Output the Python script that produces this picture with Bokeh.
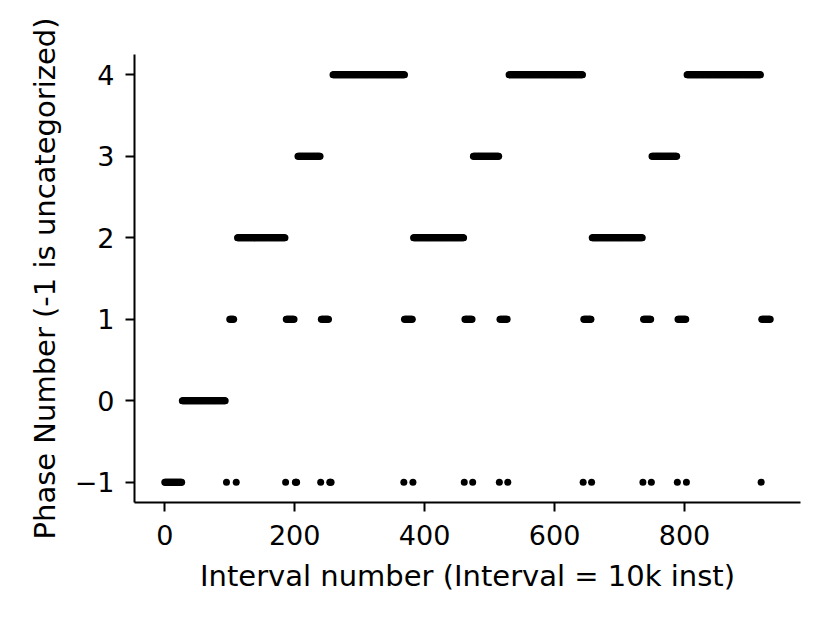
from bokeh.plotting import figure
from bokeh.models import Range1d, FixedTicker, ColumnDataSource
from bokeh.embed import file_html
from bokeh.resources import INLINE

# Phase runs: (start interval, end interval, phase)
run_start = [0, 27, 95, 100, 110, 112, 186, 187, 201, 205, 240, 241, 254, 259,
             368, 369, 382, 383, 461, 462, 474, 475, 515, 516, 528, 530,
             644, 645, 657, 658, 736, 737, 749, 750, 789, 790, 803, 804, 918, 919]
run_end = [26, 93, 95, 106, 110, 185, 186, 199, 203, 239, 240, 252, 256, 369,
           368, 381, 382, 460, 461, 473, 474, 514, 515, 527, 528, 643,
           644, 656, 657, 735, 736, 748, 749, 788, 789, 802, 803, 917, 918, 932]
run_phase = [-1, 0, -1, 1, -1, 2, -1, 1, -1, 3, -1, 1, -1, 4,
             -1, 1, -1, 2, -1, 1, -1, 3, -1, 1, -1, 4,
             -1, 1, -1, 2, -1, 1, -1, 3, -1, 1, -1, 4, -1, 1]

x_ticks = [0, 200, 400, 600, 800]
y_ticks = [-1, 0, 1, 2, 3, 4]
y_tick_labels = {-1: "\u22121", 0: "0", 1: "1", 2: "2", 3: "3", 4: "4"}

xs, ys = [], []
for s, e, ph in zip(run_start, run_end, run_phase):
    for i in range(s, e + 1):
        xs.append(i)
        ys.append(ph)
src = ColumnDataSource(dict(x=xs, y=ys))

n_max = 932
pad_x = 0.05 * n_max

p = figure(width=814, height=607, output_backend="svg", toolbar_location=None,
           x_range=Range1d(-pad_x, n_max + pad_x), y_range=Range1d(-1.25, 4.25))
p.min_border_left = 134
p.min_border_right = 14
p.min_border_top = 54
p.min_border_bottom = 105
p.outline_line_color = None
p.grid.visible = False
p.background_fill_color = "white"
p.border_fill_color = "white"

p.scatter("x", "y", source=src, size=7, color="black", line_color=None)

FONT = "DejaVu Sans"
for ax in (p.xaxis[0], p.yaxis[0]):
    ax.axis_line_width = 2
    ax.axis_line_color = "black"
    ax.major_tick_line_width = 2
    ax.major_tick_line_color = "black"
    ax.major_tick_out = 9
    ax.major_tick_in = 0
    ax.minor_tick_line_color = None
    ax.major_label_text_font = FONT
    ax.major_label_text_font_size = "27px"
    ax.major_label_text_color = "black"
    ax.axis_label_text_font = FONT
    ax.axis_label_text_font_size = "29px"
    ax.axis_label_text_font_style = "normal"
    ax.axis_label_text_color = "black"

p.xaxis.ticker = FixedTicker(ticks=x_ticks)
p.yaxis.ticker = FixedTicker(ticks=y_ticks)
p.yaxis.major_label_overrides = y_tick_labels
p.xaxis.axis_label = "Interval number (Interval = 10k inst)"
p.yaxis.axis_label = "Phase Number (-1 is uncategorized)"
p.xaxis.major_label_standoff = 13
p.yaxis.major_label_standoff = 11
p.xaxis.axis_label_standoff = 11
p.yaxis.axis_label_standoff = 10

open("out.html", "w").write(file_html(p, INLINE))
